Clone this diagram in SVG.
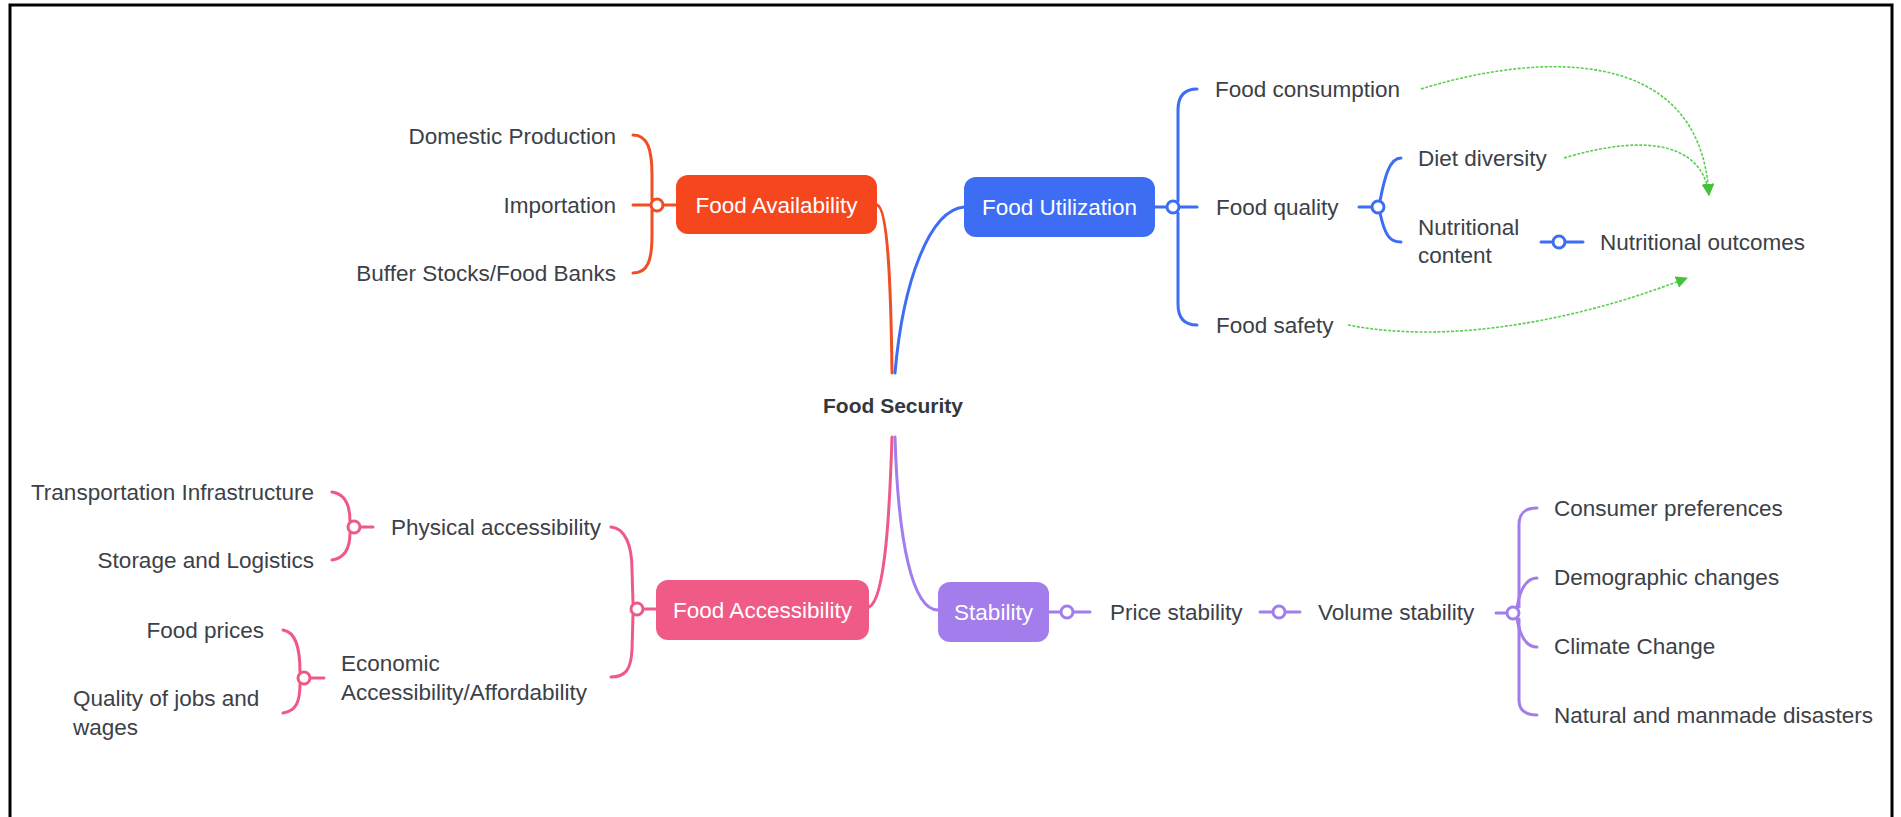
<svg xmlns="http://www.w3.org/2000/svg" width="1901" height="817" viewBox="0 0 1901 817">
<style>
.t{font-family:"Liberation Sans",Arial,sans-serif;font-size:22.5px;fill:#3c4148}
.bt{font-family:"Liberation Sans",Arial,sans-serif;font-size:22.5px;fill:#ffffff;text-anchor:middle}
.e{text-anchor:end}
.c{fill:none;stroke-width:3;stroke-linecap:round}
.red{stroke:#f04e23}.blue{stroke:#3d6df2}.pink{stroke:#ee5a85}.purple{stroke:#a27deb}
.dot{fill:#ffffff;stroke-width:3}
.g{fill:none;stroke:#5ccf4f;stroke-width:1.6;stroke-dasharray:3 1.5}
</style>
<defs>
<marker id="ah" markerUnits="userSpaceOnUse" markerWidth="14" markerHeight="14" refX="11" refY="6" orient="auto">
<path d="M0,0 L12,6 L0,12 Z" fill="#45c23a"/>
</marker>
</defs>
<rect width="1901" height="817" fill="#ffffff"/>
<path d="M10,820 L10,5 L1892,5 L1892,820" fill="none" stroke="#000" stroke-width="3"/>

<g id="connectors">
<!-- main branches -->
<path class="c red" d="M877,205 C888,207 891,290 892,373"/>
<path class="c blue" d="M964,207 C930,210 903,280 895,373"/>
<path class="c pink" d="M869,607 C886,600 890,500 892,437"/>
<path class="c purple" d="M895,437 C898,540 912,610 938,610"/>
<!-- red brace -->
<path class="c red" d="M633,135 C648,135 652,150 652,175 L652,200"/>
<path class="c red" d="M633,273 C648,273 652,260 652,235 L652,210"/>
<path class="c red" d="M633,205 L651,205 M663,205 L676,205"/>
<!-- blue brace -->
<path class="c blue" d="M1155,207 L1167,207 M1179,207 L1197,207"/>
<path class="c blue" d="M1178,201 L1178,110 C1178,95 1185,89 1197,89"/>
<path class="c blue" d="M1178,213 L1178,304 C1178,319 1185,325 1197,325"/>
<path class="c blue" d="M1359,207 L1372,207"/>
<path class="c blue" d="M1380,201 C1385,175 1390,158 1401,158"/>
<path class="c blue" d="M1380,213 C1385,236 1390,242 1401,242"/>
<path class="c blue" d="M1541,242 L1553,242 M1565,242 L1583,242"/>
<!-- pink braces -->
<path class="c pink" d="M332,492 C345,494 350,505 350,521"/>
<path class="c pink" d="M332,560 C345,558 350,548 350,533"/>
<path class="c pink" d="M360,527 L373,527"/>
<path class="c pink" d="M283,630 C296,632 300,648 300,672"/>
<path class="c pink" d="M300,684 C300,702 296,711 283,713"/>
<path class="c pink" d="M310,678 L324,678"/>
<path class="c pink" d="M611,527 C625,528 632,545 632,570 L633,603"/>
<path class="c pink" d="M633,615 L632,650 C631,670 625,677 611,677"/>
<path class="c pink" d="M643,609 L656,609"/>
<!-- purple -->
<path class="c purple" d="M1049,612 L1061,612 M1073,612 L1090,612"/>
<path class="c purple" d="M1260,612 L1273,612 M1285,612 L1300,612"/>
<path class="c purple" d="M1496,613 L1507,613"/>
<path class="c purple" d="M1519,607 L1519,525 C1519,513 1525,508 1537,508"/>
<path class="c purple" d="M1517,607 C1520,590 1526,578 1537,578"/>
<path class="c purple" d="M1517,619 C1520,636 1526,647 1537,647"/>
<path class="c purple" d="M1519,619 L1519,700 C1519,710 1525,715 1537,715"/>
<!-- green relationships -->
<path class="g" d="M1421,89 C1530,55 1700,40 1709,195" marker-end="url(#ah)"/>
<path class="g" d="M1564,158 C1640,135 1702,140 1709,195" marker-end="url(#ah)"/>
<path class="g" d="M1348,325 C1450,345 1580,320 1687,278" marker-end="url(#ah)"/>
<!-- junction dots -->
<circle class="dot red" cx="657" cy="205" r="6"/>
<circle class="dot blue" cx="1173" cy="207" r="6"/>
<circle class="dot blue" cx="1378" cy="207" r="6"/>
<circle class="dot blue" cx="1559" cy="242" r="6"/>
<circle class="dot pink" cx="354" cy="527" r="6"/>
<circle class="dot pink" cx="304" cy="678" r="6"/>
<circle class="dot pink" cx="637" cy="609" r="6"/>
<circle class="dot purple" cx="1067" cy="612" r="6"/>
<circle class="dot purple" cx="1279" cy="612" r="6"/>
<circle class="dot purple" cx="1513" cy="613" r="6"/>
</g>

<g id="food-security"><text x="893" y="413" text-anchor="middle" style="font-family:'Liberation Sans',Arial,sans-serif;font-size:21px;font-weight:bold;fill:#333840">Food Security</text></g>

<g id="food-availability"><rect x="676" y="175" width="201" height="59" rx="12" fill="#f5461e"/><text class="bt" x="776.5" y="213">Food Availability</text></g>
<g id="domestic-production"><text class="t e" x="616" y="144">Domestic Production</text></g>
<g id="importation"><text class="t e" x="616" y="213">Importation</text></g>
<g id="buffer-stocks"><text class="t e" x="616" y="281">Buffer Stocks/Food Banks</text></g>

<g id="food-utilization"><rect x="964" y="177" width="191" height="60" rx="12" fill="#3d6df2"/><text class="bt" x="1059.5" y="215">Food Utilization</text></g>
<g id="food-consumption"><text class="t" x="1215" y="97">Food consumption</text></g>
<g id="food-quality"><text class="t" x="1216" y="215">Food quality</text></g>
<g id="food-safety"><text class="t" x="1216" y="333">Food safety</text></g>
<g id="diet-diversity"><text class="t" x="1418" y="166">Diet diversity</text></g>
<g id="nutritional-content"><text class="t" x="1418" y="235">Nutritional</text><text class="t" x="1418" y="263">content</text></g>
<g id="nutritional-outcomes"><text class="t" x="1600" y="250">Nutritional outcomes</text></g>

<g id="food-accessibility"><rect x="656" y="580" width="213" height="60" rx="12" fill="#ef5a86"/><text class="bt" x="762.5" y="618">Food Accessibility</text></g>
<g id="physical-accessibility"><text class="t" x="391" y="535">Physical accessibility</text></g>
<g id="transportation"><text class="t e" x="314" y="500">Transportation Infrastructure</text></g>
<g id="storage"><text class="t e" x="314" y="568">Storage and Logistics</text></g>
<g id="economic-accessibility"><text class="t" x="341" y="671">Economic</text><text class="t" x="341" y="700">Accessibility/Affordability</text></g>
<g id="food-prices"><text class="t e" x="264" y="638">Food prices</text></g>
<g id="quality-jobs"><text class="t" x="73" y="706">Quality of jobs and</text><text class="t" x="73" y="735">wages</text></g>

<g id="stability"><rect x="938" y="582" width="111" height="60" rx="12" fill="#a27deb"/><text class="bt" x="993.5" y="620">Stability</text></g>
<g id="price-stability"><text class="t" x="1110" y="620">Price stability</text></g>
<g id="volume-stability"><text class="t" x="1318" y="620">Volume stability</text></g>
<g id="consumer-preferences"><text class="t" x="1554" y="516">Consumer preferences</text></g>
<g id="demographic-changes"><text class="t" x="1554" y="585">Demographic changes</text></g>
<g id="climate-change"><text class="t" x="1554" y="654">Climate Change</text></g>
<g id="disasters"><text class="t" x="1554" y="723">Natural and manmade disasters</text></g>
</svg>
